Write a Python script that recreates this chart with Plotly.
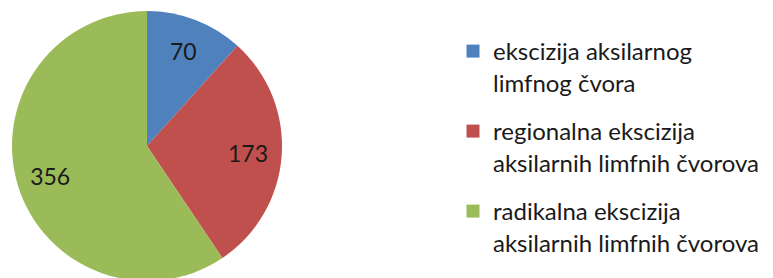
import plotly.graph_objects as go

labels = [
    "ekscizija aksilarnog<br>limfnog čvora",
    "regionalna ekscizija<br>aksilarnih limfnih čvorova",
    "radikalna ekscizija<br>aksilarnih limfnih čvorova",
]
values = [70, 173, 356]
colors = ["#4F81BD", "#C0504D", "#9BBB59"]

W, H = 773, 278
FONT = "Lato"
TXT = "#1a1a1a"
# page body adds an 8px offset; domain chosen so that pie radius is 135
dom = dict(x=[4 / W, 274 / W], y=[0, 1])

fig = go.Figure()
# coloured slices
fig.add_trace(go.Pie(
    labels=labels, values=values, sort=False, direction="clockwise", rotation=0,
    marker=dict(colors=colors, line=dict(width=0)),
    textinfo="none", domain=dom, showlegend=False,
    hoverinfo="label+value",
))
# transparent ring that carries the value labels (placed mid-ring)
fig.add_trace(go.Pie(
    labels=labels, values=values, sort=False, direction="clockwise", rotation=0,
    hole=0.5,
    marker=dict(colors=["rgba(0,0,0,0)"] * len(values), line=dict(width=0)),
    textinfo="value", textposition="inside", insidetextorientation="horizontal",
    textfont=dict(family=FONT, size=23, color=TXT),
    domain=dom, showlegend=False, hoverinfo="skip",
))
# legend entries
for i, (lab, col) in enumerate(zip(labels, colors)):
    fig.add_trace(go.Scatter(
        x=[None], y=[None], mode="markers", name=lab,
        marker=dict(symbol="square", size=13, color=col),
        legendgroup=f"g{i}", showlegend=True, hoverinfo="skip",
    ))

fig.update_layout(
    width=W, height=H,
    margin=dict(l=0, r=0, t=3, b=5, autoexpand=False),
    paper_bgcolor="white", plot_bgcolor="white",
    xaxis=dict(visible=False), yaxis=dict(visible=False),
    showlegend=True,
    legend=dict(
        xref="container", yref="container",
        x=445 / W, y=1 - 21 / H, xanchor="left", yanchor="top",
        valign="top", tracegroupgap=14.6, maxheight=278,
        font=dict(family=FONT, size=24, color=TXT),
        bgcolor="rgba(0,0,0,0)", itemclick=False, itemdoubleclick=False,
    ),
    uniformtext=dict(minsize=10, mode="show"),
)
fig.write_html("out.html")
